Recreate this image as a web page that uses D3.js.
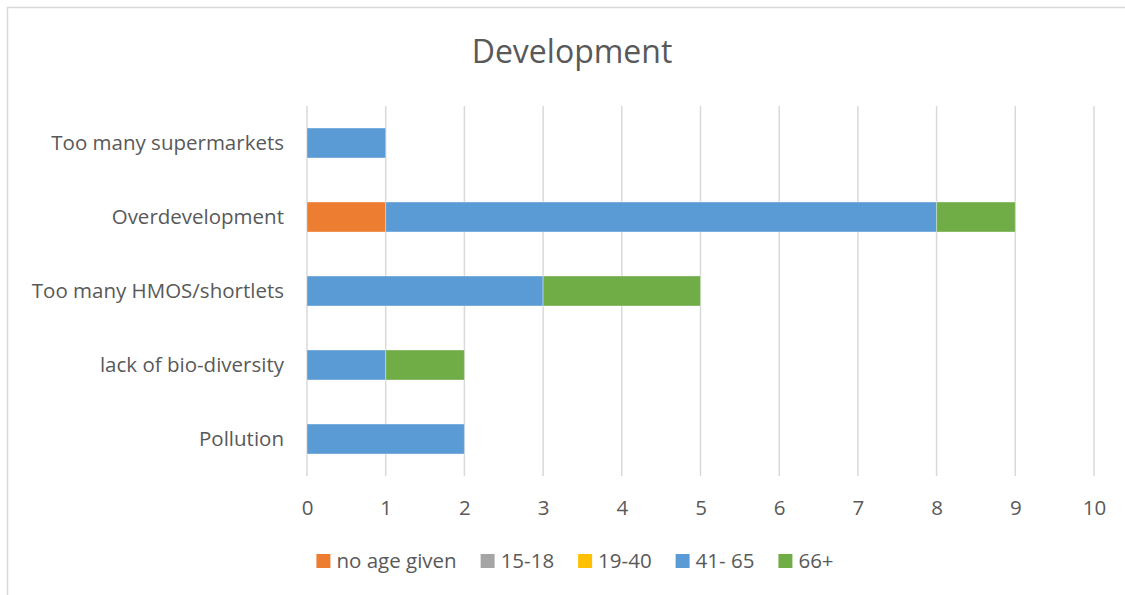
<!DOCTYPE html>
<html><head><meta charset="utf-8">
<script src="https://cdn.jsdelivr.net/npm/d3@7"></script>
<style>body{margin:0;background:#fff}svg{display:block}text{font-family:"Open Sans",sans-serif;fill:#595959}</style>
</head><body><svg id="c" width="1125" height="595"></svg>
<script>
const categories = ["Too many supermarkets","Overdevelopment","Too many HMOS/shortlets","lack of bio-diversity","Pollution"];
const seriesNames = ["no age given","15-18","19-40","41- 65","66+"];
const seriesColors = ["#ED7D31","#A5A5A5","#FFC000","#5B9BD5","#70AD47"];
const noAgeGiven = [0,1,0,0,0];
const age15to18 = [0,0,0,0,0];
const age19to40 = [0,0,0,0,0];
const age41to65 = [1,7,3,1,2];
const age66plus = [0,1,2,1,0];
const xTicks = [0,1,2,3,4,5,6,7,8,9,10];
const title = "Development";

const seriesValues = [noAgeGiven, age15to18, age19to40, age41to65, age66plus];
const rows = categories.map((c,i)=>{const r={cat:c}; seriesNames.forEach((s,j)=>r[s]=seriesValues[j][i]); return r;});
const stack = d3.stack().keys(seriesNames)(rows);

const FONT = "'Open Sans',sans-serif";
const svg = d3.select("#c");
svg.append("rect").attr("x",7.5).attr("y",7.5).attr("width",1140).attr("height",620).attr("fill","#fff").attr("stroke","#D9D9D9").attr("stroke-width",1.5);

const x = d3.scaleLinear().domain([0,10]).range([307,1094]);
const y = d3.scaleBand().domain(categories).range([106,476]).paddingInner(0.595).paddingOuter(0.2975);

svg.append("text").attr("x",572).attr("y",63).attr("text-anchor","middle").style("font-size","32px").text(title);

const grid = svg.append("g");
grid.selectAll("line").data(xTicks).join("line")
  .attr("x1",d=>x(d)).attr("x2",d=>x(d)).attr("y1",106).attr("y2",476)
  .attr("stroke","#D9D9D9").attr("stroke-width",1.5);

svg.append("g").selectAll("g").data(stack).join("g")
  .attr("fill",(d,i)=>seriesColors[i])
  .selectAll("rect").data(d=>d.filter(p=>p[1]-p[0]>0)).join("rect")
  .attr("x",d=>x(d[0])).attr("width",d=>x(d[1])-x(d[0]))
  .attr("y",d=>y(d.data.cat)).attr("height",y.bandwidth())
  .attr("stroke","#fff").attr("stroke-opacity",0.35).attr("stroke-width",1);

const xAxis = svg.append("g").attr("transform","translate(0,476)").call(d3.axisBottom(x).tickValues(xTicks).tickSize(0).tickPadding(24));
xAxis.select(".domain").remove();
xAxis.selectAll("text").style("font-size","20.5px").attr("fill","#595959").style("font-family",FONT);

const yAxis = svg.append("g").attr("transform","translate(284,0)").call(d3.axisLeft(y).tickSize(0).tickPadding(0));
yAxis.select(".domain").remove();
yAxis.selectAll("text").style("font-size","20.5px").attr("fill","#595959").style("font-family",FONT);

// legend
const lg = svg.append("g");
const items = lg.selectAll("g").data(seriesNames).join("g");
items.append("rect").attr("width",14).attr("height",14).attr("y",-7).attr("fill",(d,i)=>seriesColors[i]);
items.append("text").attr("x",20).attr("dy","0.35em").style("font-size","20.5px").text(d=>d);
let cx = 0;
items.each(function(){const w=this.getBBox().width; d3.select(this).attr("transform",`translate(${cx},0)`); cx += w + 24;});
const total = cx - 24;
lg.attr("transform",`translate(${575-total/2},561)`);
</script></body></html>
